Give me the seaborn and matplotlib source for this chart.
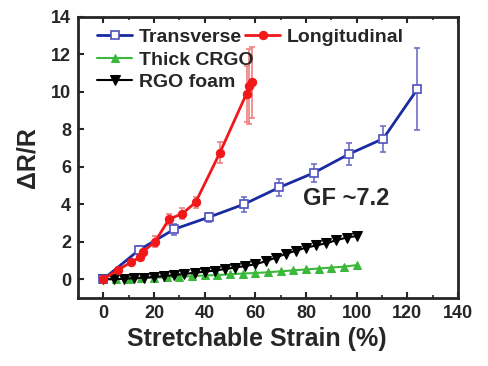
import numpy as np
import pandas as pd
import matplotlib
matplotlib.use("Agg")
import matplotlib.pyplot as plt
import seaborn as sns

# ---- data ----
trans_x = [0, 14, 28, 41.5, 55.5, 69.5, 83, 97, 110.5, 124]
trans_y = [0, 1.55, 2.67, 3.3, 4.0, 4.9, 5.67, 6.68, 7.5, 10.15]
trans_err = [0.05, 0.2, 0.3, 0.25, 0.4, 0.45, 0.5, 0.6, 0.7, 2.2]

long_x = [0, 5.6, 10.8, 14.4, 15.5, 20.4, 25.9, 31.2, 36.4, 46, 56.5, 57.5, 58.5]
long_y = [0, 0.48, 0.9, 1.17, 1.45, 2.0, 3.2, 3.5, 4.1, 6.75, 9.9, 10.3, 10.5]
long_err = [0.05, 0.1, 0.1, 0.1, 0.15, 0.3, 0.3, 0.3, 0.3, 0.55, 1.5, 2.0, 1.9]

crgo_x = [0, 5, 10, 15, 20, 25, 30, 35, 40, 45, 50, 55, 60, 65, 70, 75, 80, 85, 90, 95, 100]
crgo_y = [0, 0.0, 0.02, 0.05, 0.08, 0.1, 0.13, 0.16, 0.2, 0.22, 0.26, 0.3, 0.33,
          0.37, 0.42, 0.47, 0.52, 0.57, 0.62, 0.67, 0.75]

foam_x = [0, 4, 8, 12, 16, 20, 24, 28, 32, 36, 40, 44, 48, 52, 56, 60, 64, 68,
          72, 76, 80, 84, 88, 92, 96, 100]
foam_y = [0.0, 0.0, 0.02, 0.05, 0.08, 0.12, 0.17, 0.22, 0.28, 0.34, 0.40, 0.46,
          0.54, 0.62, 0.70, 0.80, 0.95, 1.15, 1.35, 1.52, 1.68, 1.80, 1.92,
          2.08, 2.22, 2.30]

sns.set_style("ticks")
plt.rcParams['font.family'] = ['Liberation Sans', 'DejaVu Sans']
plt.rcParams['font.weight'] = 'bold'

fig = plt.figure(figsize=(4.88, 3.66), dpi=100)
ax = fig.add_axes([0.16, 0.186, 0.7785, 0.768])

# error bars first (lighter colours), then the lines
ax.errorbar(trans_x, trans_y, yerr=trans_err, fmt='none', ecolor='#7070c8',
            elinewidth=1.2, capsize=2.5, capthick=1.2, zorder=2)
ax.errorbar(long_x, long_y, yerr=long_err, fmt='none', ecolor='#f08080',
            elinewidth=1.2, capsize=2.5, capthick=1.2, zorder=2)

sns.lineplot(x=crgo_x, y=crgo_y, ax=ax, color='#3cb83c', marker='^',
             markersize=6, markeredgecolor='#3cb83c', linewidth=1.5,
             label='Thick CRGO', zorder=3)
sns.lineplot(x=foam_x, y=foam_y, ax=ax, color='black', marker='v',
             markersize=6.5, markeredgecolor='black', linewidth=1.5,
             label='RGO foam', zorder=3)
sns.lineplot(x=trans_x, y=trans_y, ax=ax, color='#1a2aa0', marker='s',
             markersize=5.5, markerfacecolor='white', markeredgecolor='#5050c0',
             markeredgewidth=1.2, linewidth=2, label='Transverse', zorder=4)
sns.lineplot(x=long_x, y=long_y, ax=ax, color='#f01818', marker='o',
             markersize=6, markeredgecolor='#f01818', linewidth=2,
             label='Longitudinal', zorder=4)

ax.set_xlim(-10, 140)
ax.set_ylim(-1, 14)
ax.set_xticks(np.arange(0, 141, 20))
ax.set_yticks(np.arange(0, 15, 2))
ax.set_xticks(np.arange(-10, 141, 10), minor=True)
ax.tick_params(axis='both', which='major', direction='in', length=4, width=1.5,
               labelsize=13, top=True, pad=5)
ax.tick_params(axis='both', which='minor', direction='in', length=2.5, width=1.2,
               top=True)
for s in ax.spines.values():
    s.set_linewidth(2)
for lab in ax.get_xticklabels() + ax.get_yticklabels():
    lab.set_fontweight('bold')

ax.set_xlabel('Stretchable Strain (%)', fontsize=18, fontweight='bold')
ax.xaxis.set_label_coords(0.471, -0.105)
ax.set_ylabel('ΔR/R', fontsize=18, fontweight='bold', labelpad=8)

ax.text(79, 4.3, 'GF ~7.2', fontsize=17, fontweight='bold', va='center')

handles, labels = ax.get_legend_handles_labels()
hmap = dict(zip(labels, handles))
leg1 = ax.legend([hmap['Transverse'], hmap['Thick CRGO'], hmap['RGO foam']],
                 ['Transverse', 'Thick CRGO', 'RGO foam'],
                 loc='upper left', bbox_to_anchor=(0.02, 1.0), frameon=False,
                 prop={'weight': 'bold', 'size': 14}, handlelength=1.8,
                 handletextpad=0.35, labelspacing=0.25, borderaxespad=0.2)
ax.add_artist(leg1)
ax.legend([hmap['Longitudinal']], ['Longitudinal'], loc='upper left',
          bbox_to_anchor=(0.409, 1.0), frameon=False,
          prop={'weight': 'bold', 'size': 14}, handlelength=1.8,
          handletextpad=0.35, borderaxespad=0.2)

fig.savefig('out.png', dpi=100, facecolor='white')
